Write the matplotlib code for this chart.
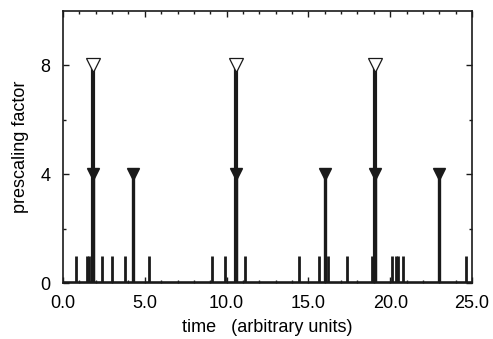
import matplotlib
matplotlib.use("Agg")
import matplotlib.pyplot as plt
from matplotlib.ticker import MultipleLocator, FixedLocator

plt.rcParams['font.family'] = ['Liberation Sans', 'DejaVu Sans']

# data
t_one = [0.77, 1.49, 1.61, 2.38, 3.02, 3.77, 5.26, 9.13, 9.88, 11.15, 14.45,
         15.67, 16.17, 17.38, 18.90, 20.13, 20.33, 20.48, 20.80, 24.63]
v_one = [1] * len(t_one)
t_four = [1.86, 4.28, 10.60, 16.03, 19.09, 23.00]
v_four = [4] * len(t_four)
t_eight = [1.86, 10.60, 19.09]
v_eight = [8] * len(t_eight)
x_ticks = [0, 5, 10, 15, 20, 25]
x_ticklabels = ["0.0", "5.0", "10.0", "15.0", "20.0", "25.0"]
y_ticks = [0, 4, 8]

fig = plt.figure(figsize=(4.93, 3.39), dpi=100)
ax = fig.add_axes([63/493, 1-283/339, (472-63)/493, (283-11)/339])

ax.plot([0, 25], [0, 0], color='#1a1a1a', lw=2.6, solid_capstyle='butt', zorder=2)
ax.vlines(t_one, 0, v_one, color='#1a1a1a', lw=2.0, zorder=3)
ax.vlines(t_four, 0, v_four, color='#1a1a1a', lw=2.4, zorder=3)
ax.vlines(t_eight, 0, v_eight, color='#1a1a1a', lw=3.0, zorder=3)
ax.plot(t_four, v_four, linestyle='none', marker='v', ms=9, color='#1a1a1a', zorder=4)
ax.plot(t_eight, v_eight, linestyle='none', marker='v', ms=10, mfc='white',
        mec='#1a1a1a', mew=0.9, zorder=4)

ax.set_xlim(0, 25)
ax.set_ylim(0, 10)
ax.xaxis.set_major_locator(FixedLocator(x_ticks))
ax.set_xticklabels(x_ticklabels)
ax.xaxis.set_minor_locator(MultipleLocator(1))
ax.yaxis.set_major_locator(FixedLocator(y_ticks))
ax.yaxis.set_minor_locator(FixedLocator([2, 6]))
ax.tick_params(which='both', direction='in', top=True, right=True, labelsize=13,
               color='#1a1a1a', width=1)
ax.tick_params(which='major', length=4, pad=9)
ax.tick_params(which='minor', length=2.5)
for s in ax.spines.values():
    s.set_linewidth(1.2)
    s.set_color('#1a1a1a')

ax.set_xlabel("time   (arbitrary units)", fontsize=13, labelpad=5)
ax.set_ylabel("prescaling factor", fontsize=13, labelpad=8)

fig.savefig("out.png", dpi=100)
